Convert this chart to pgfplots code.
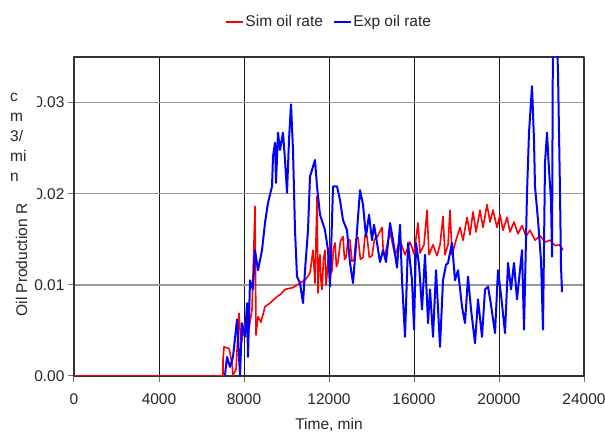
\documentclass[border=0pt]{standalone}
\usepackage{fontspec}
\setmainfont{Liberation Sans}
\usepackage{pgfplots}
\pgfplotsset{compat=1.18}
\newcommand{\lblfont}{\fontsize{15.5pt}{18pt}\selectfont}
\begin{document}
\begin{tikzpicture}
\begin{axis}[
  scale only axis, width=510pt, height=319pt,
  xmin=0, xmax=24000, ymin=0, ymax=0.035,
  xtick={0,4000,8000,12000,16000,20000,24000},
  xticklabels={0,4000,8000,12000,16000,20000,24000},
  ytick={0,0.01,0.02,0.03},
  yticklabels={0.00,0.01,0.02,0.03},
  scaled x ticks=false, scaled y ticks=false,
  /pgf/number format/assume math mode=true,
  tick label style={font=\lblfont, text=black!85},
  xticklabel style={yshift=-8pt},
  axis line style={line width=1.8pt, draw=black!80},
  tick style={line width=1pt, draw=black!55},
  tick align=outside, major tick length=6pt,
  xtick pos=bottom, ytick pos=left,
  xmajorgrids, ymajorgrids,
  x grid style={black!90, line width=1pt},
  y grid style={black!40, line width=1.5pt},
  xlabel={Time, min},
  xlabel style={font=\lblfont, text=black!85, at={(0.5,0)}, anchor=center, yshift=-49pt},
  legend style={at={(0.5,1)}, anchor=center, yshift=35pt, draw=none, fill=none,
    font=\lblfont, text=black!85, legend columns=-1,
    /tikz/every even column/.append style={column sep=8pt}},
  legend image code/.code={\draw[#1, line width=1.5pt] (0pt,0pt) -- (17pt,0pt);},
  line join=round,
]
\addplot[red, line width=1.6pt] coordinates {
(0,0) (7012,0) (7012,0.0018) (7060,0.0032) (7300,0.0030) (7435,0.0014) (7482,0.0001)
(7624,0.0007) (7765,0.0069) (7859,0.0034) (8047,0.0058) (8188,0.0045) (8377,0.0073)
(8518,0.0186) (8565,0.0045) (8659,0.0065) (8800,0.0059) (8988,0.0076) (9224,0.0080)
(9553,0.0087) (9741,0.0090) (9930,0.0095) (10306,0.0097) (10636,0.0102) (10871,0.0105)
(11106,0.0113) (11247,0.0138) (11341,0.0102) (11436,0.0197) (11483,0.0091) (11530,0.0125)
(11577,0.0133) (11620,0.0105) (11671,0.0095) (11740,0.0128) (11812,0.0138) (11860,0.0100)
(11906,0.0111) (11980,0.0135) (12047,0.0144) (12100,0.0112) (12141,0.0116) (12210,0.0140)
(12283,0.0146) (12350,0.0120) (12424,0.0125) (12540,0.0148) (12659,0.0153) (12730,0.0128)
(12800,0.0130) (12900,0.0150) (12989,0.0149) (13080,0.0126) (13177,0.0127) (13270,0.0150)
(13365,0.0152) (13480,0.0128) (13600,0.0130) (13700,0.0155) (13789,0.0153) (13900,0.0130)
(14024,0.0132) (14140,0.0150) (14259,0.0152) (14494,0.0163) (14560,0.0135) (14636,0.0133)
(14871,0.0158) (15106,0.0132) (15342,0.0149) (15577,0.0133) (15812,0.0147) (16000,0.0134)
(16189,0.0168) (16283,0.0135) (16471,0.0144) (16612,0.0182) (16706,0.0133) (16895,0.0144)
(17083,0.0132) (17224,0.0144) (17365,0.0175) (17459,0.0133) (17600,0.0144) (17695,0.0182)
(17789,0.0133) (17977,0.0149) (18165,0.0163) (18306,0.0149) (18495,0.0174) (18636,0.0155)
(18777,0.0180) (18918,0.0158) (19106,0.0182) (19248,0.0163) (19436,0.0188) (19577,0.0169)
(19718,0.0182) (19906,0.0163) (20048,0.0177) (20189,0.0160) (20377,0.0174) (20518,0.0158)
(20706,0.0169) (20895,0.0156) (21083,0.0165) (21271,0.0153) (21459,0.0160) (21695,0.0149)
(21930,0.0154) (22165,0.0147) (22400,0.0149) (22636,0.0143) (22871,0.0144) (23012,0.0138)
};
\addlegendentry{Sim oil rate}
\addplot[blue, line width=2pt] coordinates {
(7106,0.0001) (7200,0.0021) (7341,0.0010) (7482,0.0021) (7671,0.0062) (7812,0.0001)
(7906,0.0058) (8047,0.0043) (8141,0.0080) (8188,0.0021) (8283,0.0105) (8424,0.0095)
(8518,0.0138) (8659,0.0116) (8847,0.0138) (8988,0.0168) (9130,0.0190) (9318,0.0208)
(9365,0.0241) (9459,0.0256) (9506,0.0212) (9600,0.0267) (9694,0.0248) (9835,0.0267)
(9930,0.0237) (10024,0.0201) (10118,0.0259) (10212,0.0298) (10306,0.0248) (10400,0.0160)
(10494,0.0109) (10636,0.0102) (10777,0.0080) (10871,0.0116) (11012,0.0160) (11106,0.0219)
(11200,0.0226) (11341,0.0237) (11436,0.0208) (11577,0.0177) (11812,0.0160) (11953,0.0138)
(12047,0.0098) (12189,0.0208) (12377,0.0208) (12518,0.0193) (12659,0.0171) (12847,0.0160)
(12989,0.0124) (13130,0.0102) (13271,0.0144) (13459,0.0204) (13600,0.0188) (13742,0.0153)
(13883,0.0177) (14024,0.0149) (14118,0.0166) (14259,0.0146) (14400,0.0125) (14542,0.0138)
(14683,0.0125) (14871,0.0168) (15012,0.0149) (15200,0.0119) (15342,0.0166) (15436,0.0105)
(15577,0.0043) (15718,0.0146) (15906,0.0105) (16000,0.0051) (16095,0.0146) (16236,0.0122)
(16377,0.0073) (16518,0.0133) (16659,0.0058) (16753,0.0095) (16895,0.0043) (17036,0.0116)
(17224,0.0032) (17365,0.0105) (17506,0.0122) (17600,0.0124) (17789,0.0146) (17930,0.0105)
(18071,0.0116) (18259,0.0076) (18400,0.0058) (18542,0.0109) (18683,0.0073) (18871,0.0036)
(19012,0.0084) (19200,0.0043) (19342,0.0095) (19483,0.0098) (19624,0.0078) (19812,0.0047)
(19953,0.0116) (20095,0.0089) (20283,0.0047) (20424,0.0124) (20565,0.0095) (20706,0.0124)
(20848,0.0084) (21083,0.0138) (21177,0.0051) (21318,0.0201) (21412,0.0267) (21553,0.0318)
(21647,0.0259) (21694,0.0208) (21836,0.0171) (21977,0.0127) (22071,0.0051) (22165,0.0234)
(22259,0.0267) (22353,0.0226) (22447,0.0193) (22495,0.0131) (22542,0.0400) (22683,0.0400)
(22777,0.0333) (22871,0.0201) (22918,0.0120) (22965,0.0092)
};
\addlegendentry{Exp oil rate}
\coordinate (bl) at (rel axis cs:0,0);
\coordinate (tr) at (rel axis cs:1,1);
\end{axis}
\fill[white] ([shift={(-74pt,174pt)}]bl) rectangle ([shift={(-37pt,291pt)}]bl);
\node[anchor=north west, align=left, inner sep=0pt, text=black!85,
  font=\fontsize{15.5pt}{20pt}\selectfont] at ([shift={(-64pt,283pt)}]bl) {c\\m\\3/\\mi\\n};
\node[rotate=90, anchor=center, inner sep=0pt, text=black!85, font=\lblfont]
  at ([shift={(-52.5pt,116pt)}]bl) {Oil Production R};
\pgfresetboundingbox
\path ([shift={(-74pt,-59pt)}]bl) rectangle ([shift={(21pt,57pt)}]tr);
\end{tikzpicture}
\end{document}
